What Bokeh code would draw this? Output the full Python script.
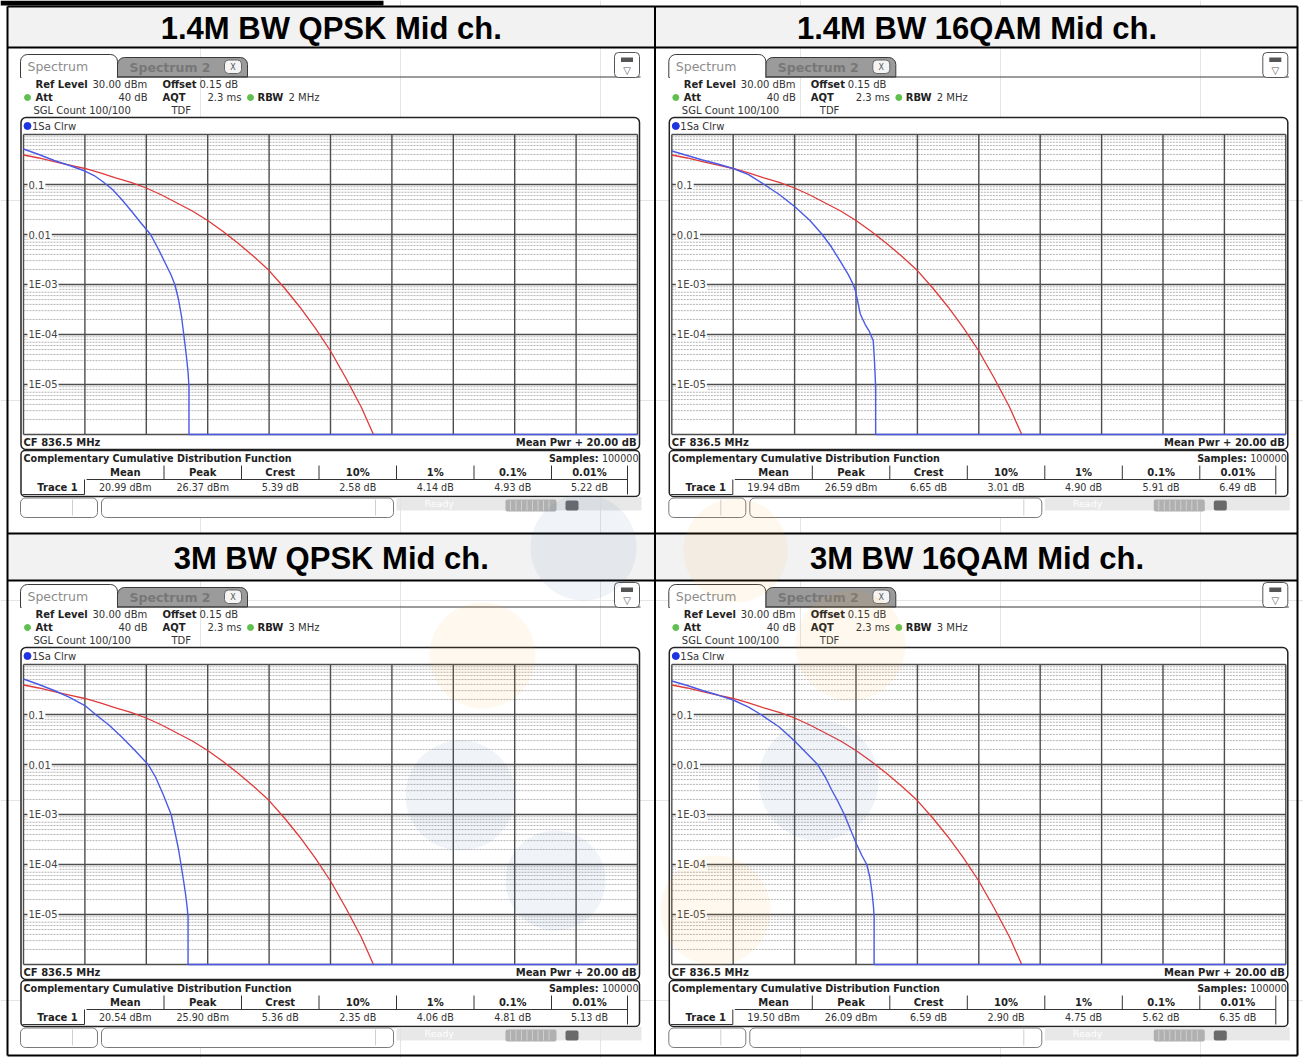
import numpy as np
from bokeh.plotting import figure
from bokeh.models import Range1d, LogScale
from bokeh.core.properties import value
from bokeh.embed import file_html
from bokeh.resources import INLINE

# ---------------- data ----------------
titles = ["1.4M BW QPSK Mid ch.", "1.4M BW 16QAM Mid ch.",
          "3M BW QPSK Mid ch.", "3M BW 16QAM Mid ch."]
rbw_text = ["2 MHz", "2 MHz", "3 MHz", "3 MHz"]
col_headers = ["Mean", "Peak", "Crest", "10%", "1%", "0.1%", "0.01%"]
mean_pwr = ["20.99 dBm", "19.94 dBm", "20.54 dBm", "19.50 dBm"]
peak_pwr = ["26.37 dBm", "26.59 dBm", "25.90 dBm", "26.09 dBm"]
crest_db = ["5.39 dB", "6.65 dB", "5.36 dB", "6.59 dB"]
pct10 = ["2.58 dB", "3.01 dB", "2.35 dB", "2.90 dB"]
pct1 = ["4.14 dB", "4.90 dB", "4.06 dB", "4.75 dB"]
pct01 = ["4.93 dB", "5.91 dB", "4.81 dB", "5.62 dB"]
pct001 = ["5.22 dB", "6.49 dB", "5.13 dB", "6.35 dB"]

x_ticks_db = [0, 2, 4, 6, 8, 10, 12, 14, 16, 18, 20]
y_decades = [1.0, 0.1, 0.01, 1e-3, 1e-4, 1e-5, 1e-6]
ytick_probs = [0.1, 0.01, 1e-3, 1e-4, 1e-5]
ytick_labels = ["0.1", "0.01", "1E-03", "1E-04", "1E-05"]

# reference (AWGN) CCDF, red trace, same in every panel
ref_db = [0, 0.5, 1, 1.5, 2, 2.5, 3, 3.5, 4, 4.5, 5, 5.5, 6, 6.5, 7, 7.5, 8, 8.5,
          9, 9.5, 10, 10.5, 11, 11.4]
ref_prob = [0.389, 0.339, 0.288, 0.245, 0.209, 0.170, 0.135, 0.110, 0.0851, 0.0617,
            0.0427, 0.0295, 0.0191, 0.0115, 0.0066, 0.00363, 0.0019, 8.5e-4,
            3.55e-4, 1.35e-4, 4.68e-5, 1.35e-5, 3.55e-6, 1.0e-6]

# measured CCDF, blue trace
blue_db_1 = [0, 0.5, 1.0, 1.5, 2.0, 2.3, 2.6, 2.9, 3.2, 3.5, 3.8, 4.14, 4.4, 4.6,
             4.8, 4.93, 5.05, 5.15, 5.22, 5.3, 5.36, 5.39, 5.39, 20]
blue_prob_1 = [0.513, 0.398, 0.302, 0.240, 0.186, 0.151, 0.112, 0.0794, 0.0501,
               0.0302, 0.0178, 0.01, 0.00501, 0.00282, 0.00158, 0.001, 5.01e-4,
               2.24e-4, 1.0e-4, 3.98e-5, 1.78e-5, 8.9e-6, 1e-6, 1e-6]
blue_db_2 = [0, 0.5, 1.0, 1.5, 2.0, 2.5, 3.01, 3.5, 4.0, 4.5, 4.9, 5.2, 5.5, 5.75,
             5.91, 5.98, 6.14, 6.3, 6.42, 6.56, 6.6, 6.64, 6.64, 20]
blue_prob_2 = [0.468, 0.380, 0.309, 0.257, 0.209, 0.158, 0.1, 0.0631, 0.0363, 0.0191,
               0.01, 0.00562, 0.00282, 0.00158, 0.001, 7.6e-4, 2.57e-4, 1.58e-4,
               1.2e-4, 7.6e-5, 3.16e-5, 8.9e-6, 1e-6, 1e-6]
blue_db_3 = [0, 0.5, 1.0, 1.5, 2.0, 2.35, 2.8, 3.2, 3.6, 4.06, 4.3, 4.55, 4.81,
             4.95, 5.05, 5.13, 5.22, 5.28, 5.33, 5.36, 5.36, 20]
blue_prob_3 = [0.513, 0.398, 0.302, 0.219, 0.151, 0.1, 0.0603, 0.0355, 0.02, 0.01,
               0.00562, 0.00251, 0.001, 3.98e-4, 2.0e-4, 1.0e-4, 4.47e-5, 2.51e-5,
               1.41e-5, 8.9e-6, 1e-6, 1e-6]
blue_db_4 = [0, 0.5, 1.0, 1.5, 2.0, 2.5, 2.9, 3.5, 4.0, 4.4, 4.75, 5.0, 5.2, 5.42,
             5.62, 5.8, 6.0, 6.2, 6.35, 6.45, 6.52, 6.57, 6.59, 6.59, 20]
blue_prob_4 = [0.468, 0.380, 0.302, 0.245, 0.195, 0.141, 0.1, 0.0562, 0.0295, 0.0166,
               0.01, 0.00562, 0.00316, 0.00178, 0.001, 5.37e-4, 2.69e-4, 1.48e-4,
               1.0e-4, 5.62e-5, 2.82e-5, 1.41e-5, 8.9e-6, 1e-6, 1e-6]
blue_db = [blue_db_1, blue_db_2, blue_db_3, blue_db_4]
blue_prob = [blue_prob_1, blue_prob_2, blue_prob_3, blue_prob_4]

# ---------------- layout constants (page pixel space) ----------------
PDX, PDY = 648.3, 530.0          # offset between panels
GX0, GW = 23.0, 614.0            # grid left / width of first panel
GY0, GH = 134.0, 300.0           # grid top / height of first panel
WIDTH, HEIGHT = 1303, 1058
XR = (0, WIDTH)
YR = (HEIGHT, 0)

SANS = "DejaVu Sans"
TFONT = "Liberation Sans"

p = figure(width=WIDTH, height=HEIGHT, x_range=Range1d(*XR), y_range=Range1d(*YR),
           x_axis_location=None, y_axis_location=None, output_backend="svg",
           toolbar_location=None, min_border=0)
p.outline_line_color = None
p.background_fill_color = "white"
p.border_fill_color = "white"

# per-panel data ranges: dB on a linear scale, probability on a log scale
exr, eyr, eys = {}, {}, {}
for k in range(4):
    c, r = k % 2, k // 2
    X0 = GX0 + PDX * c
    Y0 = GY0 + PDY * r
    s = (x_ticks_db[-1] - x_ticks_db[0]) / GW
    exr[f"db{k}"] = Range1d((XR[0] - X0) * s, (XR[1] - X0) * s)
    dec = 6.0 / GH
    eyr[f"pr{k}"] = Range1d(10 ** (-(YR[0] - Y0) * dec), 10 ** (-(YR[1] - Y0) * dec))
    eys[f"pr{k}"] = LogScale()
p.extra_x_ranges = exr
p.extra_y_ranges = eyr
p.extra_y_scales = eys


def q(l, r, t, b, fill=None, line=None, lw=1.0, radius=0, falpha=1.0, lalpha=1.0):
    p.quad(left=[l], right=[r], top=[t], bottom=[b], fill_color=fill, fill_alpha=falpha,
           line_color=line, line_width=lw, line_alpha=lalpha, border_radius=radius)


def seg(x0, y0, x1, y1, color="#222222", lw=1.0, dash="solid", alpha=1.0):
    p.segment(x0=[x0], y0=[y0], x1=[x1], y1=[y1], line_color=color, line_width=lw,
              line_dash=dash, line_alpha=alpha)


def txt(x, y, s, size=10, bold=False, color="#222222", align="left",
        baseline="middle", font=SANS, alpha=1.0):
    p.text(x=[x], y=[y], text=[s], text_font=value(font), text_font_size=f"{size}px",
           text_font_style="bold" if bold else "normal", text_color=color,
           text_align=align, text_baseline=baseline, text_alpha=alpha)


# ---------------- table frame & title rows ----------------
q(0, 383, 0, 5, fill="black")
for r, (ya, yb) in enumerate([(6, 47), (533, 580)]):
    q(7, 654.5, ya, yb, fill="#f2f2f2")
    q(654.5, 1297, ya, yb, fill="#f2f2f2")
for k in range(4):
    c, r = k % 2, k // 2
    cx = 330.75 + 645.75 * c
    cy = 28 if r == 0 else 557.5
    txt(cx, cy, titles[k], size=31, bold=True, color="black", align="center", font=TFONT)

for yy in [6, 47, 533, 580, 1055]:
    seg(7, yy, 1297, yy, color="black", lw=2)
for xx in [7, 654.5, 1297]:
    seg(xx, 6, xx, 1055, color="black", lw=2)

# ---------------- the four analyzer screens ----------------
col_edges = [86, 163.5, 241, 318.5, 396, 473.5, 551, 627]
hdr_values = [mean_pwr, peak_pwr, crest_db, pct10, pct1, pct01, pct001]

for k in range(4):
    c, r = k % 2, k // 2
    dx, dy = PDX * c, PDY * r
    X = lambda x: x + dx
    Y = lambda y: y + dy
    xn, yn = f"db{k}", f"pr{k}"

    # tab bar
    q(X(117), X(247), Y(57), Y(76.5), fill="#9b9b9b", line="#3a3a3a", lw=1, radius=(7, 7, 0, 0))
    txt(X(129), Y(66.5), "Spectrum 2", size=12.5, bold=True, color="#777777")
    q(X(224), X(241), Y(59.5), Y(73), fill="#f4f4f4", line="#666666", lw=1, radius=4)
    txt(X(232.5), Y(66.5), "X", size=8, color="#555555", align="center")
    q(X(20), X(117), Y(54), Y(77), fill="white", line="#3a3a3a", lw=1, radius=(7, 7, 0, 0))
    seg(X(21), Y(77), X(116.5), Y(77), color="white", lw=2)
    seg(X(117), Y(76.5), X(640), Y(76.5), color="#3a3a3a", lw=1.2)
    txt(X(27), Y(65.5), "Spectrum", size=12.5, color="#8c8c8c")
    q(X(614), X(639), Y(52), Y(77), fill="white", line="#555555", lw=1, radius=4)
    q(X(620.5), X(632.5), Y(57), Y(61.5), fill="#555555", line=None)
    txt(X(626.5), Y(69.5), "\u25bd", size=10, color="#555555", align="center")

    # settings
    txt(X(35), Y(84), "Ref Level", size=10, bold=True)
    txt(X(92), Y(84), "30.00 dBm", size=10, color="#333333")
    txt(X(162), Y(84), "Offset", size=10, bold=True)
    txt(X(199), Y(84), "0.15 dB", size=10, color="#333333")
    p.scatter(x=[X(27), X(250)], y=[Y(97), Y(97)], size=6, color="#5fbf4f")
    txt(X(35), Y(97), "Att", size=10, bold=True)
    txt(X(147), Y(97), "40 dB", size=10, color="#333333", align="right")
    txt(X(162), Y(97), "AQT", size=10, bold=True)
    txt(X(241), Y(97), "2.3 ms", size=10, color="#333333", align="right")
    txt(X(257), Y(97), "RBW", size=10, bold=True)
    txt(X(288), Y(97), rbw_text[k], size=10, color="#333333")
    txt(X(33), Y(110), "SGL Count 100/100", size=10, color="#333333")
    txt(X(171), Y(110), "TDF", size=10, color="#333333")

    # diagram box
    q(X(20.5), X(639), Y(117), Y(449), fill="white", line="#222222", lw=1.5, radius=5)
    p.scatter(x=[X(27)], y=[Y(125.5)], size=7, color="#1f35e0")
    txt(X(31.5), Y(125.5), "1Sa Clrw", size=10, color="#333333")

    # grid (through the panel's dB / log-probability scales)
    minor = [m * 10.0 ** (-d) for d in range(1, 7) for m in range(2, 10)]
    p.segment(x0=[x_ticks_db[0]] * len(minor), x1=[x_ticks_db[-1]] * len(minor),
              y0=minor, y1=minor, line_color="#b4b4b4", line_width=1, line_dash="2 1",
              x_range_name=xn, y_range_name=yn)
    p.segment(x0=x_ticks_db, x1=x_ticks_db, y0=[y_decades[-1]] * len(x_ticks_db),
              y1=[y_decades[0]] * len(x_ticks_db), line_color="#4d4d4d", line_width=1.4,
              x_range_name=xn, y_range_name=yn)
    p.segment(x0=[x_ticks_db[0]] * len(y_decades), x1=[x_ticks_db[-1]] * len(y_decades),
              y0=y_decades, y1=y_decades, line_color="#4d4d4d", line_width=1.4,
              x_range_name=xn, y_range_name=yn)
    p.text(x=[0.13] * len(ytick_probs), y=ytick_probs, text=ytick_labels,
           text_font=value(SANS), text_font_size="10px", text_color="#444444",
           text_baseline="middle", background_fill_color="white", padding=1,
           x_range_name=xn, y_range_name=yn)

    # traces
    p.line(ref_db, ref_prob, line_color="#e03a3a", line_width=1.3,
           x_range_name=xn, y_range_name=yn)
    p.line(blue_db[k], blue_prob[k], line_color="#4a5ae6", line_width=1.4,
           x_range_name=xn, y_range_name=yn)

    txt(X(23), Y(441.5), "CF 836.5 MHz", size=10, bold=True, color="#222222")
    txt(X(636), Y(441.5), "Mean Pwr + 20.00 dB", size=10, bold=True, color="#222222",
        align="right")

    # result table
    q(X(20.5), X(639), Y(450), Y(496), fill="white", line="#222222", lw=1.5, radius=4)
    txt(X(23), Y(457.5), "Complementary Cumulative Distribution Function", size=9.6,
        bold=True, color="#222222")
    txt(X(598), Y(457.5), "Samples:", size=9.6, bold=True, color="#222222", align="right")
    txt(X(638), Y(457.5), "100000", size=9.6, color="#333333", align="right")
    for j in range(7):
        cxm = X((col_edges[j] + col_edges[j + 1]) / 2)
        txt(cxm, Y(472), col_headers[j], size=10, bold=True, color="#222222", align="center")
        txt(cxm, Y(486.5), hdr_values[j][k], size=9.6, color="#333333", align="center")
    for e in col_edges[1:-1]:
        seg(X(e), Y(465), X(e), Y(479), color="#333333", lw=1)
    seg(X(86), Y(479), X(627), Y(479), color="#333333", lw=1)
    seg(X(627), Y(465), X(627), Y(494), color="#333333", lw=1)
    seg(X(84), Y(479), X(84), Y(494), color="#333333", lw=1)
    seg(X(22), Y(494), X(84), Y(494), color="#333333", lw=1)
    txt(X(57), Y(486.5), "Trace 1", size=10, bold=True, color="#222222", align="center")

    # status bar
    q(X(20), X(97), Y(497.5), Y(517), fill="white", line="#7a7a7a", lw=1, radius=5)
    seg(X(72), Y(499), X(72), Y(515), color="#cfcfcf")
    q(X(101), X(393), Y(497.5), Y(517), fill="white", line="#7a7a7a", lw=1, radius=5)
    seg(X(375), Y(499), X(375), Y(515), color="#cfcfcf")
    q(X(396), X(641), Y(496.5), Y(510), fill="#e2e2e2", line=None, falpha=0.8)
    txt(X(424), Y(503), "Ready", size=9.5, color="white")
    q(X(505), X(556), Y(499), Y(511), fill="#b0b0b0", line=None, radius=2)
    for sx in np.arange(510, 554, 5.5):
        seg(X(sx), Y(500), X(sx), Y(510), color="#d0d0d0", lw=1)
    q(X(565), X(578), Y(500), Y(510), fill="#6a6a6a", line=None, radius=2)

# ---------------- faint watermark ----------------
wm_x = [583, 460, 555, 818, 482, 850, 735, 715]
wm_y = [547, 795, 880, 780, 655, 645, 550, 910]
wm_r = [53, 55, 50, 60, 53, 55, 52, 55]
wm_c = ["#4060a0"] * 4 + ["#f0a030"] * 4
wm_a = [0.08] * 4 + [0.08] * 4
p.circle(x=wm_x, y=wm_y, radius=wm_r, fill_color=wm_c, fill_alpha=wm_a, line_color=None)

open("out.html", "w").write(file_html(p, INLINE))
